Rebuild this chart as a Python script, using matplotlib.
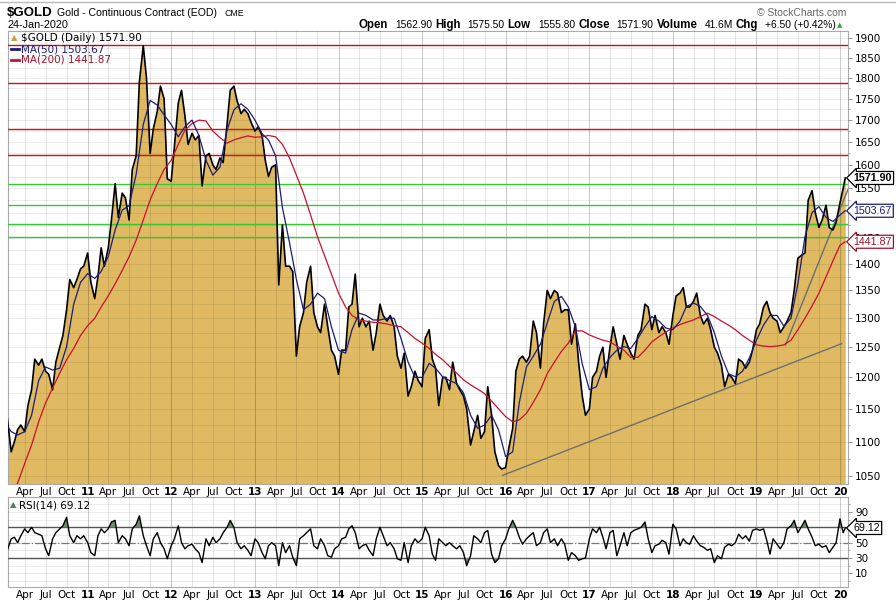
import matplotlib
matplotlib.use("Agg")
import matplotlib.pyplot as plt
from matplotlib.lines import Line2D
from matplotlib.ticker import NullFormatter
import numpy as np
import pandas as pd

# semi-monthly closes (1st and 15th of each month)
close_2010 = [1135, 1085, 1100, 1118, 1125, 1115, 1155, 1180, 1230, 1220, 1230, 1210,
              1205, 1180, 1225, 1250, 1270, 1315, 1370, 1355, 1370, 1390, 1395]
close_2011 = [1420, 1365, 1335, 1375, 1430, 1395, 1430, 1485, 1560, 1490, 1540, 1530,
              1485, 1590, 1620, 1790, 1880, 1800, 1625, 1680, 1720, 1780, 1750, 1570]
close_2012 = [1565, 1640, 1740, 1770, 1710, 1645, 1670, 1655, 1665, 1555, 1620, 1625,
              1600, 1590, 1615, 1605, 1690, 1770, 1780, 1745, 1715, 1725, 1715, 1695]
close_2013 = [1675, 1685, 1665, 1610, 1575, 1595, 1600, 1360, 1475, 1395, 1395, 1385,
              1235, 1285, 1310, 1365, 1395, 1310, 1285, 1275, 1325, 1285, 1245, 1235]
close_2014 = [1205, 1245, 1245, 1320, 1325, 1380, 1285, 1300, 1285, 1295, 1245, 1275,
              1325, 1305, 1295, 1305, 1285, 1235, 1215, 1240, 1170, 1185, 1210, 1195]
close_2015 = [1185, 1265, 1280, 1230, 1215, 1155, 1200, 1200, 1180, 1225, 1190, 1180,
              1170, 1150, 1095, 1115, 1140, 1105, 1115, 1185, 1140, 1085, 1065, 1060]
close_2016 = [1062, 1090, 1120, 1210, 1230, 1235, 1225, 1235, 1295, 1275, 1215, 1290,
              1350, 1335, 1350, 1345, 1310, 1315, 1315, 1255, 1290, 1225, 1170, 1140]
close_2017 = [1150, 1200, 1210, 1235, 1250, 1200, 1250, 1285, 1255, 1230, 1270, 1255,
              1240, 1230, 1270, 1280, 1325, 1320, 1280, 1305, 1275, 1285, 1275, 1255]
close_2018 = [1305, 1340, 1345, 1355, 1320, 1320, 1330, 1345, 1305, 1290, 1300, 1280,
              1250, 1240, 1220, 1185, 1205, 1200, 1190, 1230, 1225, 1215, 1225, 1245]
close_2019 = [1280, 1290, 1320, 1330, 1310, 1300, 1295, 1275, 1285, 1295, 1310, 1350,
              1410, 1415, 1420, 1525, 1545, 1500, 1470, 1485, 1515, 1470, 1465, 1480]
close_2020 = [1520, 1550, 1571.90]

rsi_2010 = [40, 55, 57, 50, 59, 68, 63, 70, 63, 61, 59, 42, 33, 55, 63, 68, 72, 83, 59, 50, 59, 55, 59]
rsi_2011 = [50, 37, 33, 59, 68, 63, 68, 77, 79, 50, 59, 55, 46, 68, 74, 85, 59, 46, 33, 55, 63, 50, 42, 29]
rsi_2012 = [46, 55, 72, 50, 42, 46, 48, 42, 37, 24, 55, 46, 57, 50, 55, 63, 70, 79, 70, 50, 42, 46, 40, 33]
rsi_2013 = [55, 50, 37, 29, 46, 50, 46, 20, 50, 37, 46, 31, 20, 55, 59, 63, 68, 46, 42, 55, 46, 33, 31, 42]
rsi_2014 = [46, 55, 57, 68, 72, 63, 42, 46, 48, 40, 33, 55, 70, 59, 46, 50, 42, 29, 27, 50, 24, 46, 55, 50]
rsi_2015 = [55, 70, 59, 35, 27, 55, 50, 46, 50, 46, 42, 46, 37, 20, 33, 59, 55, 50, 63, 66, 35, 24, 29, 46]
rsi_2016 = [55, 68, 79, 70, 57, 48, 55, 59, 63, 46, 50, 63, 68, 50, 55, 46, 55, 48, 27, 37, 33, 27, 29, 30]
rsi_2017 = [55, 68, 63, 70, 57, 42, 63, 66, 33, 46, 63, 46, 63, 66, 68, 70, 77, 55, 37, 46, 48, 53, 50, 35]
rsi_2018 = [74, 68, 46, 55, 50, 48, 59, 52, 46, 44, 40, 42, 24, 33, 29, 44, 48, 46, 50, 61, 55, 59, 52, 66]
rsi_2019 = [68, 66, 68, 53, 35, 55, 48, 42, 50, 68, 72, 79, 63, 70, 79, 68, 57, 46, 48, 44, 46, 37, 44, 50]
rsi_2020 = [81, 63, 69.12]

# monthly moving averages (1st of each month), last value = 24 Jan 2020
ma50 = [1130, 1115, 1110, 1115, 1140, 1195, 1217, 1212, 1215, 1251, 1325, 1365,
        1381, 1372, 1385, 1413, 1465, 1505, 1514, 1580, 1690, 1746, 1735, 1712,
        1690, 1662, 1685, 1700, 1665, 1610, 1578, 1595, 1677, 1724, 1738, 1725,
        1700, 1669, 1655, 1620, 1510, 1440, 1370, 1315, 1325, 1345, 1335, 1285,
        1245, 1240, 1280, 1309, 1305, 1297, 1297, 1300, 1300, 1265, 1225, 1200,
        1200, 1223, 1215, 1201, 1195, 1190, 1175, 1140, 1120, 1125, 1140, 1118,
        1078, 1085, 1160, 1217, 1235, 1255, 1292, 1330, 1339, 1320, 1285, 1222,
        1180, 1185, 1215, 1233, 1245, 1251, 1248, 1265, 1285, 1303, 1295, 1283,
        1280, 1295, 1321, 1327, 1321, 1305, 1275, 1235, 1206, 1201, 1210, 1232,
        1262, 1288, 1305, 1305, 1286, 1300, 1362, 1452, 1500, 1512, 1490, 1482,
        1495, 1503.67]
ma200 = [1010, 1025, 1040, 1068, 1095, 1130, 1159, 1183, 1207, 1229, 1248, 1270,
         1287, 1300, 1320, 1340, 1362, 1387, 1413, 1445, 1485, 1526, 1560, 1590,
         1610, 1645, 1677, 1692, 1700, 1698, 1675, 1660, 1648, 1655, 1660, 1664,
         1661, 1662, 1665, 1662, 1645, 1615, 1578, 1540, 1495, 1452, 1415, 1380,
         1345, 1320, 1305, 1297, 1295, 1293, 1292, 1290, 1287, 1285, 1275, 1265,
         1257, 1248, 1238, 1229, 1218, 1207, 1196, 1188, 1181, 1174, 1162, 1150,
         1138, 1130, 1133, 1143, 1160, 1180, 1206, 1225, 1243, 1257, 1278, 1278,
         1271, 1266, 1262, 1259, 1252, 1245, 1233, 1233, 1245, 1259, 1268, 1276,
         1283, 1289, 1293, 1297, 1303, 1309, 1303, 1295, 1288, 1280, 1270, 1262,
         1254, 1252, 1251, 1252, 1254, 1262, 1280, 1300, 1322, 1345, 1375, 1405,
         1435, 1441.87]

red_levels = [1883, 1787, 1679, 1621]
green_levels = [1559, 1516, 1477, 1451]
trend1_dates = ["2015-12-19", "2020-01-08"]
trend1_prices = [1051, 1256]
trend2_dates = ["2019-05-08", "2020-02-05"]
trend2_prices = [1254, 1548]

close = np.array(close_2010 + close_2011 + close_2012 + close_2013 + close_2014 + close_2015
                 + close_2016 + close_2017 + close_2018 + close_2019 + close_2020)
rsi = np.array(rsi_2010 + rsi_2011 + rsi_2012 + rsi_2013 + rsi_2014 + rsi_2015
               + rsi_2016 + rsi_2017 + rsi_2018 + rsi_2019 + rsi_2020)
dates = pd.date_range("2010-01-15", "2020-01-15", freq="SMS").append(pd.DatetimeIndex(["2020-01-24"]))
ma_dates = pd.date_range("2010-01-01", "2020-01-01", freq="MS").append(pd.DatetimeIndex(["2020-01-24"]))

GOLD = "#DFBA62"
NAVY = "#1c1c78"
CRIMSON = "#c8102e"

W, H = 896, 606
fig = plt.figure(figsize=(W / 100, H / 100), dpi=100)


def fx(x):
    return x / W


def fy(y):
    return 1 - y / H


ax = fig.add_axes([fx(8), fy(484), fx(848) - fx(8), fy(31) - fy(484)])
rx = fig.add_axes([fx(8), fy(587), fx(848) - fx(8), fy(497) - fy(587)])

xlim = (pd.Timestamp("2010-01-18"), pd.Timestamp("2020-02-05"))
qticks = pd.date_range("2010-04-01", "2020-01-01", freq="QS")
qlabels = ["%02d" % (d.year % 100) if d.month == 1 else d.strftime("%b") for d in qticks]

# ---- price panel
ax.set_yscale("log")
ax.fill_between(dates, close, 1000, color=GOLD, lw=0, zorder=1)
for lv in red_levels:
    ax.axhline(lv, color="#cc1111", lw=1, zorder=2.6)
for lv in green_levels:
    ax.axhline(lv, color="#33cc33", lw=1, zorder=2.6)
ax.plot(pd.to_datetime(trend1_dates), trend1_prices, color="#6e6e6e", lw=1, zorder=2.7)
ax.plot(pd.to_datetime(trend2_dates), trend2_prices, color="#6e6e6e", lw=1, zorder=2.7)
ax.plot(dates, close, color="black", lw=1.2, zorder=3)
ax.plot(ma_dates, ma200, color=CRIMSON, lw=0.9, zorder=3.2)
ax.plot(ma_dates, ma50, color=NAVY, lw=0.9, zorder=3.3)

ax.set_ylim(1038.7, 1918)
ax.set_xlim(*xlim)
yt = list(range(1050, 1901, 50))
# the 1500 label sits under the MA(50) tag
ax.set_yticks(yt, labels=["" if v == 1500 else str(v) for v in yt])
ax.set_yticks(list(range(1075, 1900, 50)), minor=True)
ax.yaxis.set_minor_formatter(NullFormatter())
ax.yaxis.tick_right()
ax.set_axisbelow(False)
ax.grid(which="both", axis="y", color="black", alpha=0.09, lw=0.6)

for a in (ax, rx):
    a.set_xticks(qticks, labels=qlabels)
    a.grid(which="major", axis="x", color="black", alpha=0.12, lw=0.6)
    for d in qticks:
        if d.month == 1:
            a.axvline(d, color="black", alpha=0.12, lw=0.7, zorder=2.5)
    a.tick_params(axis="x", length=0, pad=2.5, labelsize=7.5)
    a.tick_params(axis="y", which="major", length=3, width=0.6, colors="#888888",
                  labelcolor="black", labelsize=7.5, pad=2, right=True, left=False)
    a.tick_params(axis="y", which="minor", length=1.5, width=0.5, colors="#888888",
                  right=True, left=False)
    for lbl in a.get_xticklabels():
        if lbl.get_text().isdigit():
            lbl.set_fontweight("bold")
    for s in a.spines.values():
        s.set_color("#aaaaaa")
        s.set_linewidth(0.8)


def tag(a, val, text, ec, tc, bold=False):
    a.annotate(text, xy=(1, val), xycoords=("axes fraction", "data"), xytext=(4, 0),
               textcoords="offset points", ha="left", va="center", fontsize=7.7,
               family="Liberation Sans", color=tc, fontweight="bold" if bold else "normal",
               annotation_clip=False, zorder=10,
               bbox=dict(boxstyle="larrow,pad=0.14", fc="white", ec=ec, lw=0.9))


tag(ax, close[-1], "1571.90", "black", "black", bold=True)
tag(ax, ma50[-1], "1503.67", NAVY, NAVY)
tag(ax, ma200[-1], "1441.87", "#a01028", "#a01028")

# ---- RSI panel
rx.plot(dates, rsi, color="black", lw=1, zorder=3)
rx.fill_between(dates, rsi, 70, where=rsi >= 70, interpolate=True, color="#6f8a6f", lw=0, zorder=2.8)
rx.fill_between(dates, rsi, 30, where=rsi <= 30, interpolate=True, color="#6f8a6f", lw=0, zorder=2.8)
rx.axhline(70, color="#555555", lw=1, zorder=2.7)
rx.axhline(30, color="#555555", lw=1, zorder=2.7)
rx.axhline(50, color="#777777", lw=0.9, ls="-.", zorder=2.7)
rx.set_ylim(-7.8, 109.5)
rx.set_xlim(*xlim)
rx.set_yticks([10, 30, 50, 70, 90], labels=["10", "30", "50", "", "90"])
rx.set_yticks([0, 20, 40, 60, 80, 100], minor=True)
rx.yaxis.tick_right()
rx.set_axisbelow(False)
rx.grid(which="both", axis="y", color="black", alpha=0.09, lw=0.6)
tag(rx, rsi[-1], "69.12", "black", "black")

# ---- legends
fig.text(fx(11), fy(38), "▲", color="#c9a040", fontsize=6, va="center")
fig.text(fx(21), fy(38), "$GOLD (Daily) 1571.90", fontsize=7.5, va="center")
fig.add_artist(Line2D([fx(11), fx(19)], [fy(49), fy(49)], color=NAVY, lw=2))
fig.text(fx(21), fy(49), "MA(50) 1503.67", fontsize=7.5, va="center", color=NAVY)
fig.add_artist(Line2D([fx(11), fx(19)], [fy(60), fy(60)], color=CRIMSON, lw=2))
fig.text(fx(21), fy(60), "MA(200) 1441.87", fontsize=7.5, va="center", color="#a01028")
fig.text(fx(10), fy(505), "▲", color="#5e7a5e", fontsize=6, va="center")
fig.text(fx(19), fy(505), "RSI(14) 69.12", fontsize=7.5, va="center")

# ---- header
fig.add_artist(Line2D([0, 1], [fy(1.5), fy(1.5)], color="#bbbbbb", lw=1))
fig.text(fx(7), fy(13), "$GOLD", fontsize=9.5, fontweight="bold", family="Liberation Sans",
         va="center")
fig.text(fx(57), fy(13), "Gold - Continuous Contract (EOD)", fontsize=7.6,
         family="Liberation Sans", va="center")
fig.text(fx(224), fy(13.5), "CME", fontsize=6.3, family="Liberation Sans", va="center")
fig.text(fx(8), fy(25), "24-Jan-2020", fontsize=7.8, family="Liberation Sans", va="center")
fig.text(fx(846), fy(13), "© StockCharts.com", fontsize=7.5, color="#666666",
         family="Liberation Sans", ha="right", va="center")

pieces = [("Open", True), ("1562.90", False), ("High", True), ("1575.50", False),
          ("Low", True), ("1555.80", False), ("Close", True), ("1571.90", False),
          ("Volume", True), ("41.6M", False), ("Chg", True), ("+6.50 (+0.42%)", False)]
renderer = fig.canvas.get_renderer()
fig.text(fx(842), fy(25), "▲", fontsize=5, color="#33aa33", ha="right", va="center")
x = 836
for txt, bold in reversed(pieces):
    t = fig.text(fx(x), fy(25), txt, fontsize=8.3 if bold else 7.4, family="Liberation Sans",
                 fontweight="bold" if bold else "normal", ha="right", va="center")
    w = t.get_window_extent(renderer).width
    x -= w + (3 if bold else 7)

fig.savefig("out.png", dpi=100)
